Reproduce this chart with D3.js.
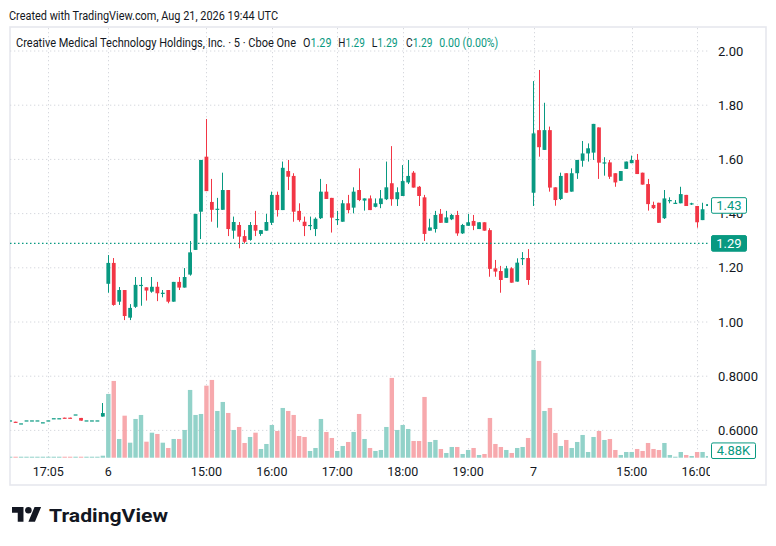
<!DOCTYPE html>
<html><head><meta charset="utf-8">
<script src="https://cdn.jsdelivr.net/npm/d3@7"></script>
<style>
html,body{margin:0;padding:0;background:#fff;}
svg{display:block;font-family:Roboto,"Liberation Sans",Arial,sans-serif;}
</style></head>
<body><svg id="c" width="776" height="546"></svg>
<script>
// ---- data (bar index 0 = first 5-min bar of day "6"; negatives = prior session) ----
const firstIndex = -18;
const opens = [
.637,.632,.626,.637,.637,.637,.630,.637,.645,.645,.647,.647,.659,.646,.637,.637,.637,.651,
1.141,1.218,1.075,1.118,1.016,1.056,1.137,1.128,1.112,1.130,
1.108,1.118,1.075,1.148,1.127,1.175,1.266,1.407,1.610,1.443,
1.414,1.414,1.487,1.337,1.358,1.317,1.303,1.358,1.325,1.337,
1.366,1.469,1.413,1.557,1.539,1.410,1.370,1.358,1.343,1.383,
1.481,1.458,1.380,1.370,1.438,1.422,1.487,1.448,1.456,1.425,
1.435,1.453,1.512,1.453,1.465,1.515,1.551,1.499,1.460,1.337,
1.343,1.399,1.366,1.379,1.395,1.327,1.355,1.373,1.343,1.368,
1.339,1.198,1.188,1.163,1.198,1.149,1.232,1.236,
1.477,1.708,1.635,1.708,1.497,1.454,1.549,1.481,1.549,1.595,
1.622,1.625,1.718,1.589,1.589,1.549,1.521,1.565,1.586,1.598,
1.551,1.509,1.432,1.440,1.383,1.450,1.440,1.438,1.469,1.438,
1.428,1.376,1.428];
const highs = [
.637,.632,.626,.637,.637,.637,.630,.637,.645,.645,.647,.647,.659,.646,.637,.637,.637,.701,
1.247,1.236,1.129,1.118,1.066,1.166,1.166,1.128,1.166,1.148,
1.118,1.118,1.148,1.166,1.199,1.299,1.399,1.598,1.749,1.528,
1.458,1.551,1.487,1.389,1.369,1.339,1.369,1.410,1.339,1.399,
1.481,1.481,1.592,1.598,1.549,1.438,1.389,1.389,1.386,1.528,
1.509,1.458,1.410,1.450,1.469,1.497,1.567,1.456,1.467,1.456,
1.487,1.592,1.649,1.497,1.579,1.598,1.557,1.502,1.469,1.381,
1.410,1.417,1.410,1.399,1.410,1.362,1.399,1.395,1.368,1.368,
1.346,1.229,1.207,1.207,1.202,1.235,1.258,1.269,
1.889,1.930,1.809,1.721,1.497,1.551,1.549,1.567,1.598,1.668,
1.659,1.731,1.718,1.608,1.598,1.549,1.557,1.592,1.614,1.620,
1.551,1.528,1.444,1.440,1.487,1.460,1.450,1.499,1.469,1.440,
1.428,1.440,1.450];
const lows = [
.637,.630,.626,.637,.637,.637,.630,.637,.645,.645,.645,.645,.659,.636,.637,.637,.637,.651,
1.108,1.060,1.063,1.007,1.007,1.052,1.060,1.079,1.108,1.077,
1.091,1.069,1.075,1.118,1.127,1.171,1.266,1.306,1.483,1.370,
1.348,1.414,1.317,1.307,1.272,1.290,1.300,1.317,1.318,1.337,
1.358,1.389,1.413,1.487,1.370,1.370,1.317,1.339,1.317,1.380,
1.454,1.330,1.358,1.370,1.401,1.401,1.446,1.411,1.413,1.423,
1.420,1.450,1.429,1.428,1.465,1.509,1.496,1.428,1.299,1.337,
1.330,1.366,1.366,1.376,1.318,1.325,1.355,1.339,1.343,1.337,
1.167,1.167,1.108,1.163,1.145,1.149,1.210,1.137,
1.428,1.610,1.635,1.481,1.429,1.450,1.477,1.481,1.528,1.573,
1.592,1.598,1.528,1.540,1.528,1.499,1.521,1.565,1.586,1.546,
1.507,1.411,1.417,1.366,1.380,1.438,1.438,1.438,1.428,1.432,
1.348,1.376,1.425];
const closes = [
.637,.630,.626,.637,.637,.637,.630,.637,.645,.645,.645,.645,.659,.636,.637,.637,.637,.664,
1.218,1.063,1.118,1.022,1.052,1.137,1.137,1.116,1.130,1.106,
1.108,1.075,1.148,1.127,1.166,1.257,1.399,1.598,1.483,1.414,
1.418,1.487,1.343,1.369,1.315,1.296,1.358,1.337,1.339,1.369,
1.469,1.413,1.569,1.536,1.407,1.376,1.354,1.358,1.381,1.481,
1.454,1.385,1.380,1.438,1.413,1.481,1.450,1.456,1.413,1.438,
1.456,1.497,1.453,1.479,1.520,1.539,1.496,1.465,1.325,1.349,
1.395,1.366,1.386,1.395,1.327,1.358,1.368,1.355,1.368,1.337,
1.196,1.186,1.155,1.198,1.145,1.219,1.236,1.155,
1.696,1.645,1.708,1.496,1.450,1.539,1.477,1.549,1.598,1.622,
1.641,1.731,1.588,1.589,1.536,1.515,1.557,1.592,1.598,1.546,
1.507,1.435,1.420,1.366,1.456,1.450,1.440,1.472,1.428,1.438,
1.368,1.416,1.435];
const volumesK = [
0.7,0.7,0.7,0.7,0.7,0.7,0.7,0.7,0.7,0.7,0.7,0.7,0.7,0.7,0.7,0.7,0.7,1.4,
44.6,53.7,13.1,29.4,10.5,27.1,29.9,11.2,17.5,16.6,
10.5,6.8,13.1,13.1,19.4,47.4,29.9,30.6,50.4,54.4,
32.7,39,31.3,19.4,21.5,10.3,14.5,17.5,6.1,9.6,
22.9,18.7,34.8,32.7,29.9,15.2,14.5,4.7,6.8,27.1,
18,13.8,4.7,8.2,11,18,30.6,13.1,6.8,4.7,
5.4,21.5,55.8,19.4,22.9,20.1,11.7,11.7,42.5,11,
12.4,6.1,3.3,7.5,7.5,2.6,5.4,6.8,1.9,2.6,
27.8,9.6,7.5,5.4,3.3,6.8,7.5,13.8,
75.4,67.7,32.7,34.8,17.3,8.2,12.4,6.8,11,15.9,
4,14.5,18.7,12.4,13.1,5.4,1.9,4,4,6.1,
4.7,10.3,6.1,5.4,10.3,1.9,0.7,4,1.9,1.2,
4,4,1.2];
const timeTickIndex = [-11, 0, 18, 30, 42, 54, 66, 78, 96, 108];
const timeTickLabels = ["17:05","6","15:00","16:00","17:00","18:00","19:00","7","15:00","16:00"];
const priceTicks = [2.0, 1.8, 1.6, 1.4, 1.2, 1.0, 0.8, 0.6];
const priceTickLabels = ["2.00","1.80","1.60","1.40","1.20","1.00","0.8000","0.6000"];
const legendKeys = ["O","H","L","C"];
const legendVals = ["1.29","1.29","1.29","1.29"];
const legendChange = "0.00 (0.00%)";
const lastPrice = 1.29;
const markPrice = 1.43;
const lastVolumeK = 4.88;

// ---- layout ----
const UP = "#089981", DN = "#F23645", UPV = "#92d2c9", DNV = "#f7a9ad";
const paneL = 10, paneR = 708, paneT = 28, paneB = 458;
const svg = d3.select("#c");
const bars = opens.map((o,i)=>({i:i+firstIndex,o,h:highs[i],l:lows[i],c:closes[i],v:volumesK[i]}));

const x = d3.scaleLinear().domain([0, 96]).range([108.3, 631.7]);
const y = d3.scaleLinear().domain([1, 2]).range([322, 51]);
const yv = d3.scaleLinear().domain([0, 75.35]).range([457.7, 350]);

const defs = svg.append("defs");
defs.append("clipPath").attr("id","pane").append("rect")
  .attr("x",paneL).attr("y",paneT).attr("width",paneR-paneL).attr("height",paneB-paneT);
defs.append("clipPath").attr("id","taxis").append("rect")
  .attr("x",paneL).attr("y",paneB).attr("width",paneR-paneL+2).attr("height",28);

// header
svg.append("text").attr("x",9).attr("y",19.5).attr("font-size",12.5).attr("fill","#131722")
  .attr("textLength",269).attr("lengthAdjust","spacingAndGlyphs")
  .text("Created with TradingView.com, Aug 21, 2026 19:44 UTC");

// frame
svg.append("rect").attr("x",10).attr("y",27).attr("width",756).attr("height",458)
  .attr("fill","none").attr("stroke","#e6e8ee").attr("stroke-width",1.6);

// grid
const grid = svg.append("g").attr("clip-path","url(#pane)");
grid.selectAll(".hg").data(priceTicks).join("line")
  .attr("x1",paneL).attr("x2",paneR).attr("y1",d=>y(d)).attr("y2",d=>y(d))
  .attr("stroke","#d6d8de").attr("stroke-width",1).attr("stroke-dasharray","1.3,2.7");
grid.selectAll(".vg").data(timeTickIndex).join("line")
  .attr("x1",d=>Math.round(x(d))+0.5).attr("x2",d=>Math.round(x(d))+0.5).attr("y1",paneT).attr("y2",paneB)
  .attr("stroke","#d6d8de").attr("stroke-width",1).attr("stroke-dasharray","1.3,2.7");

// legend
const lg = svg.append("g").attr("font-size",12.5);
lg.append("text").attr("x",16).attr("y",46.5).attr("fill","#131722")
  .attr("textLength",280).attr("lengthAdjust","spacingAndGlyphs")
  .text("Creative Medical Technology Holdings, Inc. · 5 · Cboe One");
const legX = [303, 338.3, 371.7, 406], legW = [28.5, 26.5, 26, 26.5];
legendKeys.forEach((k,i)=>{
  const t = lg.append("text").attr("x",legX[i]).attr("y",46.5)
    .attr("textLength",legW[i]).attr("lengthAdjust","spacingAndGlyphs");
  t.append("tspan").attr("fill","#131722").text(k);
  t.append("tspan").attr("fill",UP).text(legendVals[i]);
});
lg.append("text").attr("x",439.3).attr("y",46.5).attr("fill",UP)
  .attr("textLength",59).attr("lengthAdjust","spacingAndGlyphs").text(legendChange);

const plot = svg.append("g").attr("clip-path","url(#pane)");
// volume
const bw = 4.4;
plot.selectAll(".vol").data(bars).join("rect")
  .attr("x",d=>x(d.i)-bw/2).attr("width",bw)
  .attr("y",d=>yv(d.v)).attr("height",d=>Math.max(0.8, yv(0)-yv(d.v)))
  .attr("fill",d=>d.c>=d.o?UPV:DNV);

// candles
const cw = 3.8;
const cg = plot.selectAll(".cd").data(bars).join("g");
cg.append("line")
  .attr("x1",d=>Math.round(x(d.i)-0.5)+0.5).attr("x2",d=>Math.round(x(d.i)-0.5)+0.5)
  .attr("y1",d=>y(d.h)).attr("y2",d=>y(d.l))
  .attr("stroke",d=>d.c>=d.o?UP:DN).attr("stroke-width",1);
cg.append("rect")
  .attr("x",d=>x(d.i)-cw/2).attr("width",cw)
  .attr("y",d=>y(Math.max(d.o,d.c))).attr("height",d=>Math.max(1.2, Math.abs(y(d.o)-y(d.c))))
  .attr("fill",d=>d.c>=d.o?UP:DN);

// last price line
plot.append("line").attr("x1",paneL).attr("x2",paneR).attr("y1",y(lastPrice)).attr("y2",y(lastPrice))
  .attr("stroke",UP).attr("stroke-width",1.3).attr("stroke-dasharray","1.5,2.5");

// price axis
svg.append("g").selectAll("text").data(priceTicks).join("text")
  .attr("x",718).attr("y",d=>y(d)+4.5).attr("font-size",13).attr("fill","#131722")
  .text((d,i)=>priceTickLabels[i]);

// price labels
function box(yc, w, txt, filled){
  const g = svg.append("g");
  g.append("rect").attr("x",711.5).attr("y",yc-7.8).attr("width",w).attr("height",15.6).attr("rx",1.5)
    .attr("fill",filled?UP:"#fff").attr("stroke",UP).attr("stroke-width",1);
  g.append("text").attr("x",711.5+w/2).attr("y",yc+4.6).attr("text-anchor","middle")
    .attr("font-size",13).attr("fill",filled?"#fff":UP).text(txt);
}
box(y(markPrice), 35, d3.format(".2f")(markPrice), false);
box(y(lastPrice), 35, d3.format(".2f")(lastPrice), true);
box(yv(lastVolumeK), 44, d3.format(".2f")(lastVolumeK)+"K", false);

// time axis
svg.append("g").attr("clip-path","url(#taxis)").selectAll("text").data(timeTickIndex).join("text")
  .attr("x",d=>x(d)).attr("y",476).attr("text-anchor","middle").attr("font-size",12.5).attr("fill","#131722")
  .text((d,i)=>timeTickLabels[i]);

// logo
const logo = svg.append("g").attr("transform","translate(12,503.7) scale(0.82)").attr("fill","#131722");
logo.append("path").attr("d","M14 22H7V11H0V4h14v18zM28 22h-8l7.5-18h8L28 22z");
logo.append("circle").attr("cx",20).attr("cy",8).attr("r",4);
svg.append("text").attr("x",49).attr("y",522).attr("font-size",19).attr("font-weight","bold")
  .attr("fill","#131722").attr("textLength",119).attr("lengthAdjust","spacingAndGlyphs").text("TradingView");
</script></body></html>
